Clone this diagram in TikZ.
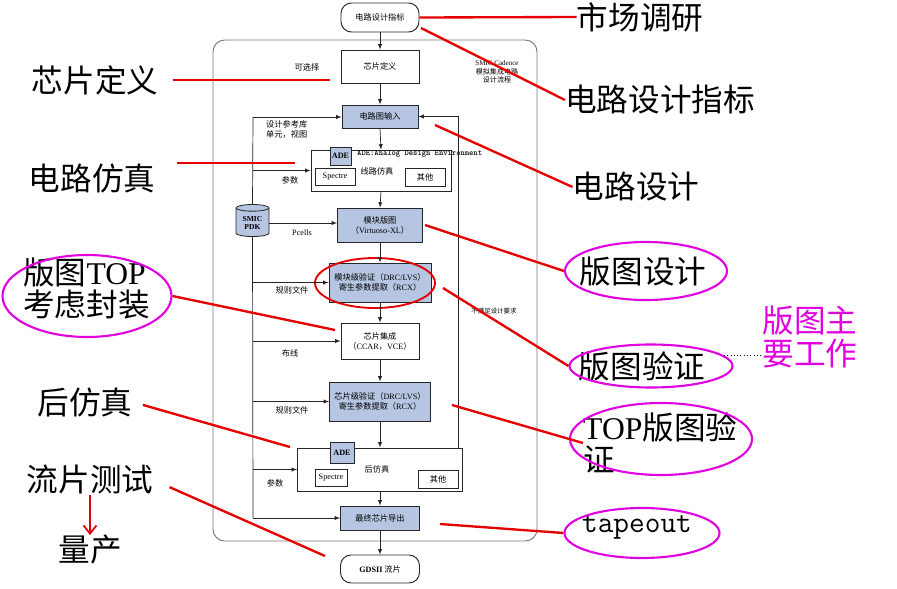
\documentclass[tikz,border=0pt]{standalone}
\usepackage{fontspec}
\newfontfamily\cjk{Noto Sans CJK SC}
\newfontfamily\tms{Liberation Serif}
\usetikzlibrary{shapes,calc,arrows.meta,positioning}
\definecolor{boxblue}{RGB}{182,197,226}
\definecolor{framegray}{RGB}{120,120,120}
\definecolor{notered}{RGB}{230,0,0}
\definecolor{ringpink}{RGB}{225,0,225}
\def\pxu{0.03cm}

\begin{document}
\begin{tikzpicture}[x=0.03cm,y=-0.03cm,
  sz/.style 2 args={minimum width=#1*\pxu, minimum height=#2*\pxu},
  blk/.style={draw=black!85, line width=0.7pt, inner sep=1pt, align=center, font=\cjk\fontsize{7}{8.5}\selectfont},
  blu/.style={blk, fill=boxblue},
  term/.style={blk, rounded corners=9pt, line width=0.8pt},
  lab/.style={inner sep=0pt, align=left, font=\cjk\fontsize{7}{8.5}\selectfont},
  flow/.style={-latex, line width=0.6pt, black!85},
  note/.style={inner sep=0pt, align=left, font=\cjk\fontsize{27}{28}\selectfont},
  redline/.style={notered, line width=2pt},
  ring/.style={ellipse, draw=ringpink, line width=1.8pt, inner sep=0pt}]
  \path[fill=white] (0,0) rectangle (897,588);
  \useasboundingbox (0,0) rectangle (897,588);
  %Frame
  \node[draw=framegray, line width=0.8pt, rounded corners=10pt, sz={324}{501}] (frm) at (375,290.5) {};
  %Flow boxes
  \node[term, sz={78}{29}] (spec) at (380,17.5) {电路设计指标};
  \node[blk, sz={78}{33}] (cdef) at (380,66.5) {芯片定义};
  \node[blu, sz={76}{23}] (sch) at (380,116.5) {电路图输入};
  \node[blk, sz={140}{41}] (sim) at (381,170.5) {};
  \node[blu, sz={21}{18}, font=\tms\bfseries\fontsize{7}{8}\selectfont] (ade1) at (340.5,156) {ADE};
  \node[lab, anchor=west, font=\ttfamily\bfseries\fontsize{7}{8}\selectfont] (adet) at (357,154) {ADE:Analog Design Environment};
  \node[lab] (simt) at (377,171) {线路仿真};
  \node[blk, sz={40}{17}, font=\tms\fontsize{7}{8}\selectfont] (spc1) at (335,176.5) {Spectre};
  \node[blk, sz={40}{18}] (oth1) at (425,177) {其他};
  \node[cylinder, shape border rotate=90, aspect=0.3, draw=black!85, fill=boxblue, line width=0.7pt,
        sz={33}{32}, inner sep=1pt, align=center, font=\tms\bfseries\fontsize{6.5}{7}\selectfont] (pdk) at (252.5,223) {SMIC\\PDK};
  \node[blu, sz={85}{34}] (lay) at (380,225) {模块版图\\（{\tms Virtuoso-XL}）};
  \node[blu, sz={102}{39}] (bver) at (380,282.5) {模块级验证（{\tms DRC/LVS}）\\寄生参数提取（{\tms RCX}）};
  \node[ellipse, draw=notered, line width=1.6pt, sz={120}{50}] (hl) at (375,283) {};
  \node[blk, sz={78}{36}] (intg) at (380,341) {芯片集成\\（{\tms CCAR}，{\tms VCE}）};
  \node[blu, sz={101}{39}] (cver) at (380,401.5) {芯片级验证（{\tms DRC/LVS}）\\寄生参数提取（{\tms RCX}）};
  \node[blk, sz={165}{43}] (psim) at (380,469.5) {};
  \node[blu, sz={24}{21}, font=\tms\bfseries\fontsize{7}{8}\selectfont] (ade2) at (342,452.5) {ADE};
  \node[lab] (psimt) at (377,469) {后仿真};
  \node[blk, sz={32}{17}, font=\tms\fontsize{7}{8}\selectfont] (spc2) at (331,477.5) {Spectre};
  \node[blk, sz={40}{18}] (oth2) at (438,479) {其他};
  \node[blu, sz={79}{24}] (out) at (380,518) {最终芯片导出};
  \node[term, sz={79}{28}] (gds) at (380,569) {{\tms\bfseries GDSII} 流片};
  %Side labels
  \node[lab] (opt) at (307,67) {可选择};
  \node[lab, align=center, font=\tms\fontsize{6}{7}\selectfont] (smic) at (497,72) {SMIC Cadence\\{\cjk 模拟集成电路}\\{\cjk 设计流程}};
  \node[lab, anchor=west] (lib) at (266,129) {设计参考库\\单元，视图};
  \node[lab] (par1) at (290,180) {参数};
  \node[lab, font=\tms\fontsize{7}{8}\selectfont] (pcl) at (302,233) {Pcells};
  \node[lab] (rul1) at (292,290) {规则文件};
  \node[lab, font=\cjk\fontsize{5.5}{6}\selectfont] (req) at (494,311) {不满足设计要求};
  \node[lab] (rt) at (290,353) {布线};
  \node[lab] (rul2) at (292,410) {规则文件};
  \node[lab] (par2) at (275,483) {参数};
  %Draw flow lines
  \foreach \a/\b in {spec/cdef, cdef/sch, sch/sim, sim/lay, lay/bver, bver/intg, intg/cver, cver/psim, psim/out, out/gds}
    \draw[flow] (\a.south) -- (\b.north);
  \coordinate (bt) at (253,117);
  \coordinate (bb) at (253,518);
  \draw[line width=0.6pt, black!85] (bt) -- (pdk.north);
  \draw[line width=0.6pt, black!85] (pdk.south) -- (bb);
  \draw[flow] (bt) -- (bt -| sch.west);
  \foreach \n in {sim, bver, intg, cver, psim, out}
    \draw[flow] (bt |- \n.west) -- (\n.west);
  \draw[flow] (pdk.east) -- (pdk.east -| lay.west);
  \coordinate (fb) at (458,0);
  \draw[flow] (fb |- psim.north) -- (fb |- sch.east) -- (sch.east);
  %Notes right
  \node[note] (mkt) at (640,17) {市场调研};
  \node[note] (idx) at (660,100) {电路设计指标};
  \node[note] (cir) at (636,187) {电路设计};
  \node[note] (lyd) at (643,272) {版图设计};
  \node[ring, sz={162}{58}] (rlyd) at (646,271) {};
  \node[note] (lyv) at (642,366) {版图验证};
  \node[ring, sz={163}{43}] (rlyv) at (651,366) {};
  \node[note, text=ringpink] (work) at (810,337) {版图主\\要工作};
  \node[note, anchor=west] (topv) at (583,443) {{\tms TOP}版图验\\证};
  \node[ring, sz={182}{72}] (rtopv) at (661,439) {};
  \node[note, font=\ttfamily\fontsize{26}{28}\selectfont] (tpo) at (637,527) {tapeout};
  \node[ring, sz={155}{50}] (rtpo) at (642,533) {};
  %Notes left
  \node[note] (cdf) at (95,80) {芯片定义};
  \node[note] (csim) at (92,178) {电路仿真};
  \node[note, anchor=west] (topp) at (23,288.5) {版图{\tms TOP}\\考虑封装};
  \node[ring, sz={169}{82}] (rtopp) at (87,296) {};
  \node[note] (post) at (85,402) {后仿真};
  \node[note] (lp) at (90,480) {流片测试};
  \node[note] (lc) at (90,550) {量产};
  %Draw red lines
  \coordinate (c1) at (421,28);
  \coordinate (c2) at (435,125);
  \coordinate (c3) at (425,225);
  \coordinate (c4) at (443,288);
  \coordinate (c5) at (452,405);
  \coordinate (c6) at (440,524);
  \coordinate (c7) at (330,80);
  \coordinate (c8) at (295,163);
  \coordinate (c9) at (335,330);
  \coordinate (c10) at (290,447);
  \coordinate (c11) at (325,556);
  \draw[redline] (spec.east) -- (mkt.west);
  \draw[redline] (c1) -- (idx.west);
  \draw[redline] (c2) -- (cir.west);
  \draw[redline] (c3) -- (rlyd.west);
  \draw[redline] (c4) -- (rlyv.west);
  \draw[redline] (c5) -- (topv.west);
  \draw[redline] (c6) -- (rtpo.west);
  \draw[redline, shorten <=12pt] (cdf.east) -- (c7);
  \draw[redline, shorten <=18pt] (c8 -| csim.east) -- (c8);
  \draw[redline] (rtopp.east) -- (c9);
  \draw[redline, shorten <=9pt] (post.east) -- (c10);
  \draw[redline, shorten <=15pt] (lp.east) -- (c11);
  \draw[notered, line width=1.5pt, -{Straight Barb[length=7pt,width=11pt]}] (lp.south) -- (lc.north);
  \coordinate (dt) at (724,355);
  \draw[dotted, line width=0.8pt] (dt) -- (work.west |- dt);
\end{tikzpicture}
\end{document}
